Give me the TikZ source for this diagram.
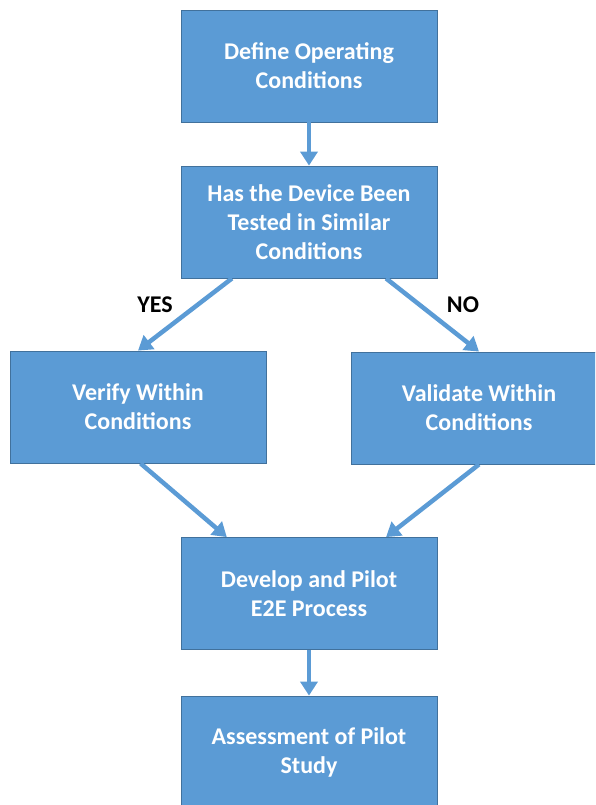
\documentclass[tikz,border=0pt]{standalone}
\usepackage{fontspec}
\setmainfont{Carlito}
\usetikzlibrary{arrows.meta,calc}
\definecolor{boxblue}{HTML}{5B9BD5}
\definecolor{boxline}{HTML}{41719C}
\begin{document}
\begin{tikzpicture}[x=1pt,y=-1pt,>={Triangle[width=17pt,length=14pt]},
  font=\fontsize{24}{29}\selectfont\bfseries,
  stepbox/.style={draw=boxline,fill=boxblue,text=white,line width=0.8pt,
    minimum width=256pt,minimum height=112pt,inner sep=0pt,align=center},
  flow/.style={->,boxblue,line width=4.5pt}]
  \clip (0,0) rectangle (595,805);
  \node[stepbox] (define) at (309,66) {Define Operating\\Conditions};
  \node[stepbox] (tested) at (309,222) {Has the Device Been\\Tested in Similar\\Conditions};
  \node[stepbox] (verify) at (138,407) {Verify Within\\Conditions};
  \node[stepbox] (validate) at (479,408) {Validate Within\\Conditions};
  \node[stepbox] (pilot) at (309,593.5) {Develop and Pilot\\E2E Process};
  \node[stepbox] (assess) at (309,752) {Assessment of Pilot\\Study};
  % arrows between the steps
  \draw[flow] (define.south) -- (tested.north);
  \draw[flow] ($(tested.south west)!0.2!(tested.south east)$) -- (verify.north);
  \draw[flow] ($(tested.south west)!0.8!(tested.south east)$) -- (validate.north);
  \draw[flow] ($(verify.south west)!0.51!(verify.south east)$) -- ($(pilot.north west)!0.18!(pilot.north east)$);
  \draw[flow] (validate.south) -- ($(pilot.north west)!0.8!(pilot.north east)$);
  \draw[flow] (pilot.south) -- (assess.north);
  \node (yes) at (155,305) {YES};
  \node (no) at (463,305) {NO};
\end{tikzpicture}
\end{document}
